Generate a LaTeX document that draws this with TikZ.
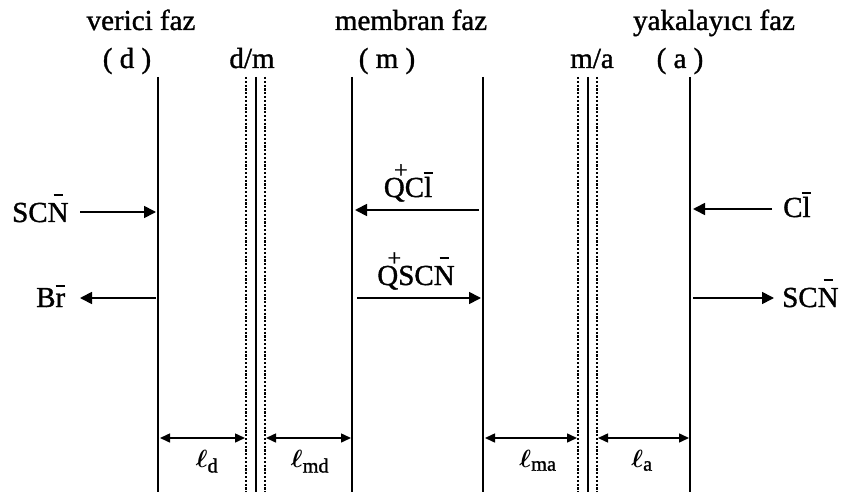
\documentclass[tikz,border=0pt]{standalone}
\usepackage{fontspec}
\usepackage{bm}
\setmainfont{Liberation Serif}[FakeBold=1.2]
\usetikzlibrary{arrows.meta}
\newcommand\ob[2][0.88em]{\ooalign{#2\cr\hidewidth\rule[#1]{0.32em}{0.07em}\hidewidth}}
\newcommand\qp{Q\makebox[0pt][r]{\raisebox{0.66em}{\fontsize{24}{24}\selectfont +}\kern-0.1em}}
\begin{document}
\begin{tikzpicture}[x=1pt,y=-1pt,
 txt/.style={font=\fontsize{29}{34}\selectfont, inner sep=0pt, anchor=base},
 wall/.style={line width=1.9pt},
 film/.style={line width=1.7pt, dash pattern=on 2.2pt off 1.6pt},
 flow/.style={line width=1.7pt, -{Triangle[length=12pt,width=12pt]}},
 dim/.style={line width=1.5pt, {Triangle[length=10pt,width=9pt]}-{Triangle[length=10pt,width=9pt]}}]
\useasboundingbox (0,0) rectangle (849,492);
% walls
\foreach \n/\x in {d/158, m/352, mr/483, a/690, dm/256, ma/588}{
  \coordinate (\n T) at (\x,77); \coordinate (\n B) at (\x,492);
  \draw[wall] (\n T) -- (\n B);}
\foreach \n/\x in {dmL/246, dmR/265, maL/578, maR/597}{
  \coordinate (\n T) at (\x,77); \coordinate (\n B) at (\x,492);
  \draw[film] (\n T) -- (\n B);}
% headers
\node[txt] (hd) at (141,30) {verici faz};
\node[txt] (hm) at (411,30) {membran faz};
\node[txt] (ha) at (714,30) {yakalayıcı faz};
\node[txt] (ld) at (127,68) {( d )};
\node[txt] (ldm) at (252,68) {d/m};
\node[txt] (lm) at (387,68) {( m )};
\node[txt] (lma) at (592,68) {m/a};
\node[txt] (la) at (680,68) {( a )};
% species
\node[txt, anchor=base west] (scnL) at (12,222) {SC\ob{N}};
\node[txt, anchor=base west] (br) at (36,307) {B\ob[0.68em]{r}};
\node[txt] (qcl) at (408,197) {\qp C\ob[0.78em]{l}};
\node[txt] (qscn) at (416,285) {\qp SC\ob{N}};
\node[txt, anchor=base west] (cl) at (783,217) {C\ob[0.78em]{l}};
\node[txt, anchor=base west] (scnR) at (782,307) {SC\ob{N}};
% flow arrows
\coordinate (a1s) at (80,212); \coordinate (a1e) at (156,212);
\coordinate (a2s) at (156,298); \coordinate (a2e) at (80,298);
\coordinate (a3s) at (479,210); \coordinate (a3e) at (355,210);
\coordinate (a4s) at (357,298); \coordinate (a4e) at (481,298);
\coordinate (a5s) at (772,209); \coordinate (a5e) at (693,209);
\coordinate (a6s) at (693,298); \coordinate (a6e) at (774,298);
\foreach \i in {1,...,6}{\draw[flow] (a\i s) -- (a\i e);}
% dimensions
\coordinate (d1s) at (160,438); \coordinate (d1e) at (245,438);
\coordinate (d2s) at (266,438); \coordinate (d2e) at (351,438);
\coordinate (d3s) at (485,438); \coordinate (d3e) at (577,438);
\coordinate (d4s) at (598,438); \coordinate (d4e) at (689,438);
\foreach \i in {1,...,4}{\draw[dim] (d\i s) -- (d\i e);}
\node[txt] (ell1) at (207,467) {$\bm{\ell}_{\mathrm{d}}$};
\node[txt] (ell2) at (310,467) {$\bm{\ell}_{\mathrm{md}}$};
\node[txt] (ell3) at (538,467) {$\bm{\ell}_{\mathrm{ma}}$};
\node[txt] (ell4) at (642,467) {$\bm{\ell}_{\mathrm{a}}$};
\end{tikzpicture}
\end{document}
